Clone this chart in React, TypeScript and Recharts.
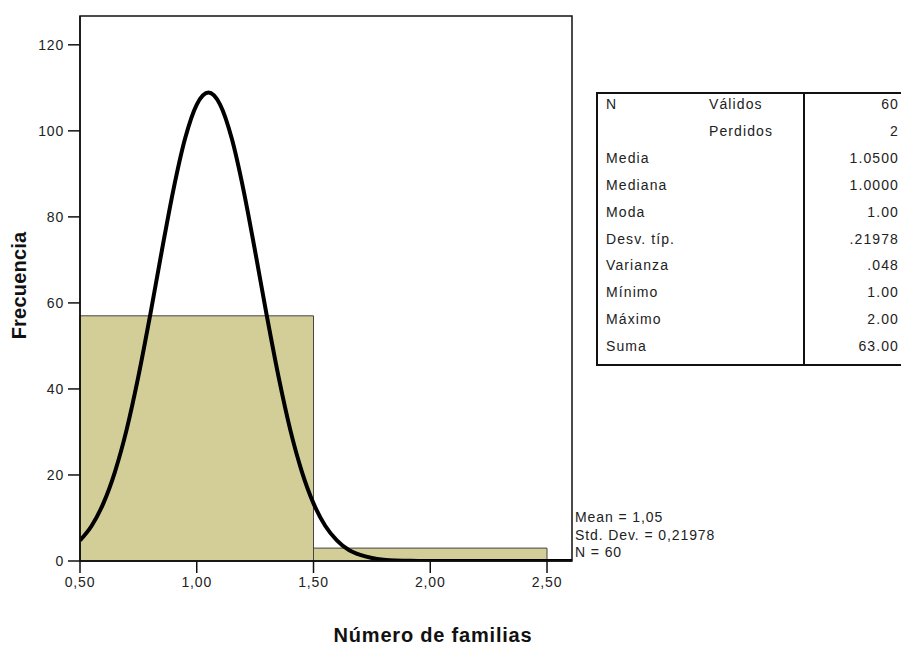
import React from 'react'
import {
  ComposedChart,
  Line,
  XAxis,
  YAxis,
  ReferenceArea,
  Label,
} from 'recharts'

// histogram bins (lower edge, upper edge, count)
const binStart = [0.5, 1.5]
const binEnd = [1.5, 2.5]
const binCount = [57, 3]

// normal curve
const curveX = [
  0.5, 0.55, 0.6, 0.65, 0.7, 0.75, 0.8, 0.85, 0.9, 0.95, 1.0, 1.05, 1.1, 1.15,
  1.2, 1.25, 1.3, 1.35, 1.4, 1.45, 1.5, 1.55, 1.6, 1.65, 1.7, 1.75, 1.8, 1.85,
  1.9, 1.95, 2.0, 2.3, 2.607,
]
const curveY = [
  4.8, 8.2, 13.4, 20.8, 30.6, 42.9, 57.0, 72.0, 86.3, 98.2, 106.1, 108.9, 106.1,
  98.2, 86.3, 72.0, 57.0, 42.9, 30.6, 20.8, 13.4, 8.2, 4.8, 2.6, 1.4, 0.7, 0.3,
  0.1, 0.05, 0, 0, 0, 0,
]

const xDomain = [0.5, 2.607]
const yDomain = [0, 126.7]
const xTicks = [0.5, 1.0, 1.5, 2.0, 2.5]
const yTicks = [0, 20, 40, 60, 80, 100, 120]

const statLabels = ['N', '', 'Media', 'Mediana', 'Moda', 'Desv. típ.', 'Varianza', 'Mínimo', 'Máximo', 'Suma']
const statSub = ['Válidos', 'Perdidos', '', '', '', '', '', '', '', '']
const statValues = ['60', '2', '1.0500', '1.0000', '1.00', '.21978', '.048', '1.00', '2.00', '63.00']

const legendLines = ['Mean = 1,05', 'Std. Dev. = 0,21978', 'N = 60']

const curveData = curveX.map((x, i) => ({ x, y: curveY[i] }))

const FONT = '"Liberation Sans", Arial, sans-serif'
const BAR_FILL = '#d3ce98'

function fmt(v: number): string {
  return v.toFixed(2).replace('.', ',')
}

function YTitle(props: any) {
  const vb = props.viewBox || { x: 0, y: 0, width: 0, height: 0 }
  const cx = 19
  const cy = vb.y + vb.height / 2 - 3
  return (
    <text
      x={cx}
      y={cy}
      transform={`rotate(-90, ${cx}, ${cy})`}
      textAnchor="middle"
      dominantBaseline="central"
      fontFamily={FONT}
      fontWeight="bold"
      fontSize={20}
      letterSpacing={0.2}
      fill="#111"
    >
      Frecuencia
    </text>
  )
}

function XTitle(props: any) {
  const vb = props.viewBox || { x: 0, y: 0, width: 0, height: 0 }
  return (
    <text
      x={vb.x + vb.width / 2 + 107}
      y={642}
      textAnchor="middle"
      fontFamily={FONT}
      fontWeight="bold"
      fontSize={20}
      letterSpacing={0.8}
      fill="#111"
    >
      Número de familias
    </text>
  )
}

export default function App() {
  return (
    <div
      style={{
        position: 'absolute',
        left: 0,
        top: 0,
        width: 901,
        height: 647,
        overflow: 'hidden',
        background: '#fff',
        fontFamily: FONT,
      }}
    >
      <ComposedChart
        width={901}
        height={647}
        data={curveData}
        margin={{ top: 16, right: 329, bottom: 0, left: 0 }}
      >
        {binStart.map((s, i) => (
          <ReferenceArea
            key={i}
            x1={s}
            x2={binEnd[i]}
            y1={0}
            y2={binCount[i]}
            fill={BAR_FILL}
            fillOpacity={1}
            stroke="#444"
            strokeWidth={1}
          />
        ))}
        {/* plot frame */}
        <ReferenceArea
          x1={xDomain[0]}
          x2={xDomain[1]}
          y1={yDomain[0]}
          y2={yDomain[1]}
          fill="none"
          stroke="#111"
          strokeWidth={1.5}
        />
        <XAxis
          dataKey="x"
          type="number"
          domain={xDomain}
          ticks={xTicks}
          tickFormatter={fmt}
          height={86}
          tickSize={12}
          tickMargin={4}
          axisLine={{ stroke: '#111', strokeWidth: 1.5 }}
          tickLine={{ stroke: '#111', strokeWidth: 1.5 }}
          tick={{ fill: '#222', fontSize: 14, fontFamily: FONT, letterSpacing: 0.8 }}
          allowDataOverflow
        >
          <Label content={<XTitle />} />
        </XAxis>
        <YAxis
          type="number"
          domain={yDomain}
          ticks={yTicks}
          width={80}
          tickSize={12}
          tickMargin={4}
          axisLine={{ stroke: '#111', strokeWidth: 1.5 }}
          tickLine={{ stroke: '#111', strokeWidth: 1.5 }}
          tick={{ fill: '#222', fontSize: 14, fontFamily: FONT, letterSpacing: 0.8 }}
          allowDataOverflow
        >
          <Label content={<YTitle />} />
        </YAxis>
        <Line
          dataKey="y"
          type="monotone"
          stroke="#000"
          strokeWidth={4}
          dot={false}
          activeDot={false}
          isAnimationActive={false}
        />
      </ComposedChart>

      {/* annotation next to the plot */}
      <div
        style={{
          position: 'absolute',
          left: 575,
          top: 509,
          fontSize: 14,
          lineHeight: '17.5px',
          letterSpacing: 0.9,
          color: '#222',
          whiteSpace: 'nowrap',
        }}
      >
        {legendLines.map((t) => (
          <div key={t}>{t}</div>
        ))}
      </div>

      {/* statistics table */}
      <div
        style={{
          position: 'absolute',
          left: 596,
          top: 92,
          width: 330,
          height: 270,
          border: '2px solid #111',
          fontSize: 14,
          color: '#222',
          letterSpacing: 1.1,
        }}
      >
        <div style={{ position: 'absolute', left: 205, top: 0, bottom: 0, borderLeft: '2px solid #111' }} />
        {statLabels.map((lab, i) => (
          <div key={i} style={{ position: 'absolute', top: 2 + i * 26.9, left: 0, width: 330, height: 20, whiteSpace: 'nowrap' }}>
            <span style={{ position: 'absolute', left: 8 }}>{lab}</span>
            <span style={{ position: 'absolute', left: 111 }}>{statSub[i]}</span>
            <span style={{ position: 'absolute', right: 29, textAlign: 'right' }}>{statValues[i]}</span>
          </div>
        ))}
      </div>
    </div>
  )
}
